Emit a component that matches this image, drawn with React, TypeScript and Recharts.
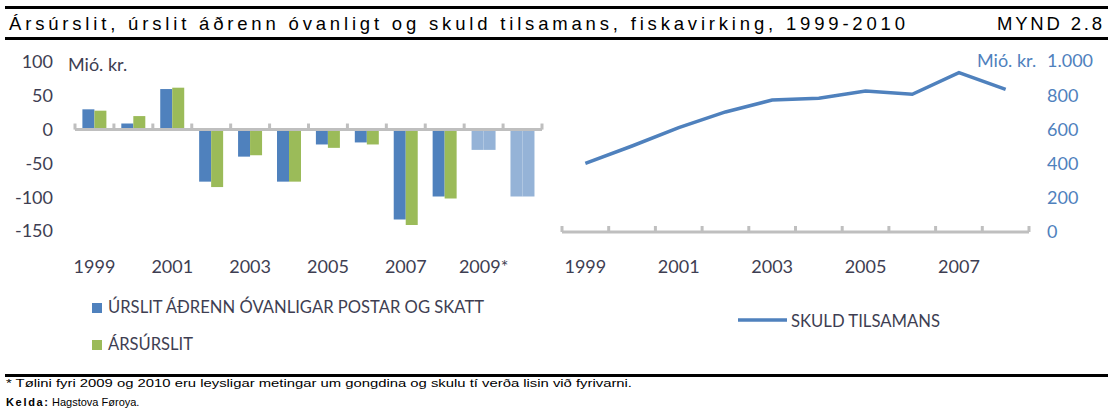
import { BarChart, Bar, Cell, LineChart, Line, XAxis, YAxis, ReferenceLine } from "recharts"

// left chart: results, Mió. kr.
const years = ["1999", "2000", "2001", "2002", "2003", "2004", "2005", "2006", "2007", "2008", "2009", "2010"]
const urslitAdrennOvanligar = [30, 9, 60, -77, -40, -77, -22, -19, -133, -99, -30, -99]
const arsurslit = [28, 20, 62, -85, -38, -77, -27, -22, -141, -102, -30, -99]
const estimateYears = ["2009", "2010"]
const leftTicks = [-150, -100, -50, 0, 50, 100]

// right chart: total debt, Mió. kr.
const skuldYears = ["1999", "2000", "2001", "2002", "2003", "2004", "2005", "2006", "2007", "2008"]
const skuldTilsamans = [401, 503, 610, 702, 772, 782, 825, 805, 932, 834]
const rightTicks = [0, 200, 400, 600, 800, 1000]

const BLUE = "#4F81BD"
const GREEN = "#9BBB59"
const LIGHT = "#95B3D7"
const AXIS = "#BFBFBF"
const DARK = "#3E3E52"

const leftData = years.map((year, i) => ({
  year,
  urslit: urslitAdrennOvanligar[i],
  ars: arsurslit[i]
}))

const rightData = skuldYears.map((year, i) => ({ year, skuld: skuldTilsamans[i] }))

const tickFont = { fontSize: 18, fontFamily: "Lato" }

// little upward tick marks at the category borders
function borderTicks(cats: string[], height: number) {
  const marks = cats.map((c) => (
    <ReferenceLine
      key={"t" + c}
      segment={[{ x: c, y: 0 }, { x: c, y: height }]}
      position="start"
      stroke={AXIS}
      strokeWidth={3}
    />
  ))
  const last = cats[cats.length - 1]
  marks.push(
    <ReferenceLine
      key="tend"
      segment={[{ x: last, y: 0 }, { x: last, y: height }]}
      position="end"
      stroke={AXIS}
      strokeWidth={3}
    />
  )
  return marks
}

export default function App() {
  return (
    <div style={{ position: "absolute", left: 0, top: 0, width: 1110, height: 414, background: "#fff", overflow: "hidden" }}>

      <div style={{ position: "absolute", left: 0, top: 0 }}>
        <BarChart
          width={550}
          height={290}
          data={leftData}
          margin={{ top: 62, right: 8, bottom: 19, left: 0 }}
          barGap={0}
          barCategoryGap="19%"
        >
          <YAxis
            domain={[-150, 100]}
            ticks={leftTicks}
            axisLine={false}
            tickLine={false}
            tickSize={0}
            tickMargin={22}
            width={75}
            tick={{ ...tickFont, fill: DARK }}
          />
          <XAxis
            dataKey="year"
            axisLine={false}
            tickLine={false}
            tickSize={0}
            tickMargin={29}
            height={40}
            interval={1}
            tick={{ ...tickFont, fill: DARK }}
            tickFormatter={(v) => (estimateYears.includes(v) ? v + "*" : v)}
          />
          <Bar dataKey="urslit" fill={BLUE} isAnimationActive={false}>
            {leftData.map((d) => (
              <Cell key={d.year} fill={estimateYears.includes(d.year) ? LIGHT : BLUE} />
            ))}
          </Bar>
          <Bar dataKey="ars" fill={GREEN} isAnimationActive={false}>
            {leftData.map((d) => (
              <Cell key={d.year} fill={estimateYears.includes(d.year) ? LIGHT : GREEN} />
            ))}
          </Bar>
          <ReferenceLine y={0} stroke={AXIS} strokeWidth={3} />
          {borderTicks(years, 9)}
        </BarChart>
      </div>

      <div style={{ position: "absolute", left: 540, top: 0 }}>
        <LineChart
          width={570}
          height={290}
          data={rightData}
          margin={{ top: 61, right: 0, bottom: 18, left: 22 }}
        >
          <XAxis
            dataKey="year"
            scale="band"
            axisLine={{ stroke: AXIS, strokeWidth: 3 }}
            tickLine={false}
            tickSize={0}
            tickMargin={28}
            height={40}
            interval={1}
            tick={{ ...tickFont, fill: DARK }}
          />
          <YAxis
            orientation="right"
            domain={[0, 1000]}
            ticks={rightTicks}
            axisLine={false}
            tickLine={false}
            tickSize={0}
            tickMargin={18}
            width={81}
            tick={{ ...tickFont, fill: BLUE }}
            tickFormatter={(v) => (v >= 1000 ? v.toLocaleString("de-DE") : String(v))}
          />
          {borderTicks(skuldYears, 35)}
          <Line
            type="linear"
            dataKey="skuld"
            stroke={BLUE}
            strokeWidth={3.5}
            dot={false}
            isAnimationActive={false}
          />
        </LineChart>
      </div>

      <svg width={1110} height={414} style={{ position: "absolute", left: 0, top: 0, pointerEvents: "none" }}>
        {/* header */}
        <rect x={5} y={6} width={1103} height={3} fill="#000" />
        <text x={9} y={30} fontFamily="Liberation Sans" fontSize={18.5} fill="#000" textLength={896} lengthAdjust="spacing">
          Ársúrslit, úrslit áðrenn óvanligt og skuld tilsamans, fiskavirking, 1999-2010
        </text>
        <text x={997} y={30} fontFamily="Liberation Sans" fontSize={18.5} fill="#000" textLength={105} lengthAdjust="spacing">
          MYND 2.8
        </text>
        <rect x={5} y={37} width={1103} height={3} fill="#000" />

        {/* unit labels */}
        <text x={68} y={71} fontFamily="Lato" fontSize={18} fill={DARK}>Mió. kr.</text>
        <text x={977} y={67} fontFamily="Lato" fontSize={18} fill={BLUE}>Mió. kr.</text>

        {/* legends */}
        <rect x={92} y={303} width={10} height={10} fill={BLUE} />
        <text x={108} y={313} fontFamily="Lato" fontSize={17} fill={DARK} textLength={376} lengthAdjust="spacingAndGlyphs">
          ÚRSLIT ÁÐRENN ÓVANLIGAR POSTAR OG SKATT
        </text>
        <rect x={92} y={340} width={10} height={10} fill={GREEN} />
        <text x={108} y={350} fontFamily="Lato" fontSize={17} fill={DARK} textLength={85} lengthAdjust="spacingAndGlyphs">
          ÁRSÚRSLIT
        </text>
        <line x1={738} y1={320} x2={787} y2={320} stroke={BLUE} strokeWidth={3.5} />
        <text x={791} y={327} fontFamily="Lato" fontSize={17} fill={DARK} textLength={149} lengthAdjust="spacingAndGlyphs">
          SKULD TILSAMANS
        </text>

        {/* footer */}
        <rect x={5} y={374} width={1103} height={3} fill="#000" />
        <text x={6} y={387} fontFamily="Liberation Sans" fontSize={11} fill="#000" textLength={626} lengthAdjust="spacingAndGlyphs">
          *  Tølini fyri 2009 og 2010 eru leysligar metingar um gongdina og skulu tí verða lisin við fyrivarni.
        </text>
        <text x={6} y={406} fontFamily="Liberation Sans" fontSize={11} fontWeight="bold" fill="#000" textLength={42} lengthAdjust="spacing">
          Kelda:
        </text>
        <text x={52} y={406} fontFamily="Liberation Sans" fontSize={11} fill="#000">
          Hagstova Føroya.
        </text>
      </svg>
    </div>
  )
}
